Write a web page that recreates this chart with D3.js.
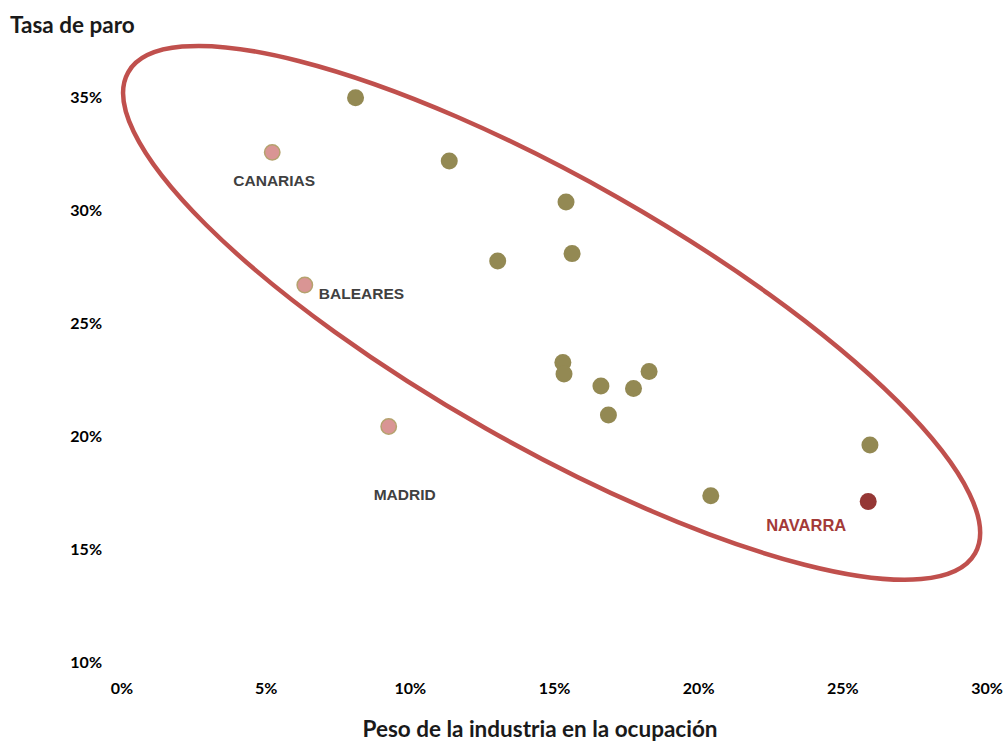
<!DOCTYPE html>
<html>
<head>
<meta charset="utf-8">
<script src="https://cdn.jsdelivr.net/npm/d3@7"></script>
<style>
  html, body { margin: 0; padding: 0; background: #ffffff; }
  svg { display: block; }
</style>
</head>
<body>
<svg id="chart" width="1007" height="742"></svg>
<script>
// ---- Data ----
const xTicks = [0, 5, 10, 15, 20, 25, 30];
const yTicks = [10, 15, 20, 25, 30, 35];
const xTickLabels = ["0%", "5%", "10%", "15%", "20%", "25%", "30%"];
const yTickLabels = ["10%", "15%", "20%", "25%", "30%", "35%"];

// other regions: [industry share %, unemployment %]
const otherX = [8.1, 11.35, 15.4, 15.61, 13.03, 15.29, 15.33, 16.61, 17.74, 18.28, 16.87, 25.94, 20.42];
const otherY = [34.97, 32.17, 30.35, 28.07, 27.74, 23.25, 22.74, 22.21, 22.1, 22.85, 20.93, 19.6, 17.36];

// highlighted regions
const highlightNames = ["CANARIAS", "BALEARES", "MADRID"];
const highlightX = [5.21, 6.34, 9.25];
const highlightY = [32.55, 26.68, 20.42];

const navarraName = "NAVARRA";
const navarraX = 25.88;
const navarraY = 17.1;

const yTitle = "Tasa de paro";
const xTitle = "Peso de la industria en la ocupación";

// ---- Layout ----
const svg = d3.select("#chart");
const x = d3.scaleLinear().domain([0, 30]).range([122, 987]);
const y = d3.scaleLinear().domain([10, 35]).range([662, 97]);

const tickFont = "Lato, 'DejaVu Sans', sans-serif";
const labelFont = "'Liberation Sans', Arial, sans-serif";

// Y tick labels
svg.append("g").selectAll("text").data(yTicks).join("text")
  .attr("x", 102)
  .attr("y", d => y(d))
  .attr("dy", "0.35em")
  .attr("text-anchor", "end")
  .attr("font-family", tickFont)
  .attr("font-weight", "bold")
  .attr("font-size", 16)
  .attr("fill", "#000")
  .text((d, i) => yTickLabels[i]);

// X tick labels
svg.append("g").selectAll("text").data(xTicks).join("text")
  .attr("x", d => x(d))
  .attr("y", 688)
  .attr("dy", "0.35em")
  .attr("text-anchor", "middle")
  .attr("font-family", tickFont)
  .attr("font-weight", "bold")
  .attr("font-size", 16)
  .attr("fill", "#000")
  .text((d, i) => xTickLabels[i]);

// Titles
svg.append("text")
  .attr("x", 10).attr("y", 33)
  .attr("font-family", tickFont)
  .attr("font-weight", "bold")
  .attr("font-size", 22.5)
  .attr("fill", "#1a1a1a")
  .text(yTitle);

svg.append("text")
  .attr("x", 540).attr("y", 737)
  .attr("text-anchor", "middle")
  .attr("font-family", tickFont)
  .attr("font-weight", "bold")
  .attr("font-size", 22.5)
  .attr("fill", "#1a1a1a")
  .text(xTitle);

// Ellipse annotation (center in data units, radii in px, rotation deg)
const ellipseCenter = [x(14.9), y(25.45)];
svg.append("ellipse")
  .attr("cx", 0).attr("cy", 0)
  .attr("rx", 487).attr("ry", 133)
  .attr("transform", `translate(${ellipseCenter[0]},${ellipseCenter[1]}) rotate(29.6)`)
  .attr("fill", "none")
  .attr("stroke", "#C0504D")
  .attr("stroke-width", 4.5);

// Other points
svg.append("g").selectAll("circle").data(otherX.map((v, i) => [v, otherY[i]])).join("circle")
  .attr("cx", d => x(d[0]))
  .attr("cy", d => y(d[1]))
  .attr("r", 8.5)
  .attr("fill", "#938953");

// Highlighted points
const hl = highlightNames.map((n, i) => ({ name: n, x: highlightX[i], y: highlightY[i] }));
svg.append("g").selectAll("circle").data(hl).join("circle")
  .attr("cx", d => x(d.x))
  .attr("cy", d => y(d.y))
  .attr("r", 7.7)
  .attr("fill", "#D99594")
  .attr("stroke", "#B5A26E")
  .attr("stroke-width", 1.5);

// Navarra point
svg.append("circle")
  .attr("cx", x(navarraX))
  .attr("cy", y(navarraY))
  .attr("r", 8.5)
  .attr("fill", "#953735");

// Labels
const labelOffsets = { CANARIAS: [2, 28, "middle"], BALEARES: [14, 9, "start"], MADRID: [16, 68, "middle"] };
svg.append("g").selectAll("text").data(hl).join("text")
  .attr("x", d => x(d.x) + labelOffsets[d.name][0])
  .attr("y", d => y(d.y) + labelOffsets[d.name][1])
  .attr("dy", "0.35em")
  .attr("text-anchor", d => labelOffsets[d.name][2])
  .attr("font-family", labelFont)
  .attr("font-weight", "bold")
  .attr("font-size", 15.5)
  .attr("fill", "#404040")
  .text(d => d.name);

svg.append("text")
  .attr("x", x(navarraX) - 62)
  .attr("y", y(navarraY) + 24)
  .attr("dy", "0.35em")
  .attr("text-anchor", "middle")
  .attr("font-family", labelFont)
  .attr("font-weight", "bold")
  .attr("font-size", 16.5)
  .attr("fill", "#A33A38")
  .text(navarraName);
</script>
</body>
</html>
